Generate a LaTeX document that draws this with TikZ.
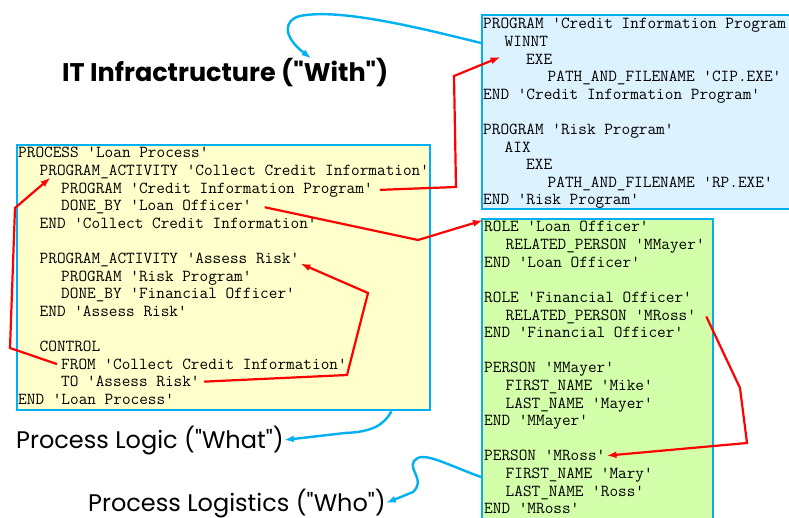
\documentclass[tikz,border=0pt]{standalone}
\usepackage{fontspec}
\usetikzlibrary{arrows.meta}
\newfontfamily\codefont{Latin Modern Mono}
\newfontfamily\handfont{Poppins}
\definecolor{linkblue}{HTML}{00B0F0}
\definecolor{linkred}{HTML}{FF0000}
\definecolor{logicbg}{HTML}{FFFFCC}
\definecolor{infrabg}{HTML}{DDF2FF}
\definecolor{peoplebg}{HTML}{D4FFAA}
\tikzset{
  codebox/.style={draw=linkblue,line width=2.4pt,anchor=north west,inner sep=0pt},
  codeline/.style={font={\codefont\fontsize{16.8pt}{17.6pt}\selectfont},anchor=base west,inner sep=1pt},
  heading/.style={font={\handfont\fontsize{24pt}{28pt}\selectfont},anchor=base west,inner sep=0pt},
  reflink/.style={draw=linkred,line width=2.2pt,-{Latex[length=10pt,width=7pt]}},
  maplink/.style={draw=linkblue,line width=2.4pt,-{Latex[length=10pt,width=7pt]}}
}
\begin{document}
\begin{tikzpicture}[x=1pt,y=-1pt]
  \useasboundingbox (0,0) rectangle (789,518);
  \clip (0,0) rectangle (789,518);
  \node (infratitle) [heading,font={\handfont\bfseries\fontsize{25.5pt}{30pt}\selectfont}] at (62,82) {IT Infractructure ("With")};
  \node (logictitle) [heading] at (16,448) {Process Logic ("What")};
  \node (logisticstitle) [heading] at (88,511) {Process Logistics ("Who")};
  % the three listings
  \node (logic) [codebox,fill=logicbg,minimum width=413pt,minimum height=265pt] at (16,144) {};
  \node (infra) [codebox,fill=infrabg,minimum width=330pt,minimum height=194pt] at (481,14) {};
  \node (people) [codebox,fill=peoplebg,minimum width=231pt,minimum height=320pt] at (481,218) {};
  \begin{scope}[nodes={codeline}]
    \node (l0) at (17,158) {PROCESS 'Loan Process'};
    \node (l1) at (38.5,175.6) {PROGRAM\_ACTIVITY 'Collect Credit Information'};
    \node (l2) at (60,193.2) {PROGRAM 'Credit Information Program'};
    \node (l3) at (60,210.8) {DONE\_BY 'Loan Officer'};
    \node (l4) at (38.5,228.4) {END 'Collect Credit Information'};
    \node (l6) at (38.5,263.6) {PROGRAM\_ACTIVITY 'Assess Risk'};
    \node (l7) at (60,281.2) {PROGRAM 'Risk Program'};
    \node (l8) at (60,298.8) {DONE\_BY 'Financial Officer'};
    \node (l9) at (38.5,316.4) {END 'Assess Risk'};
    \node (l11) at (38.5,351.6) {CONTROL};
    \node (l12) at (60,369.2) {FROM 'Collect Credit Information'};
    \node (l13) at (60,386.8) {TO 'Assess Risk'};
    \node (l14) at (17,404.4) {END 'Loan Process'};

    \node (b0) at (482,29) {PROGRAM 'Credit Information Program'};
    \node (b1) at (503.5,46.6) {WINNT};
    \node (b2) at (525,64.2) {EXE};
    \node (b3) at (546.5,81.8) {PATH\_AND\_FILENAME 'CIP.EXE'};
    \node (b4) at (482,99.4) {END 'Credit Information Program'};
    \node (b6) at (482,134.6) {PROGRAM 'Risk Program'};
    \node (b7) at (503.5,152.2) {AIX};
    \node (b8) at (525,169.8) {EXE};
    \node (b9) at (546.5,187.4) {PATH\_AND\_FILENAME 'RP.EXE'};
    \node (b10) at (482,205) {END 'Risk Program'};

    \node (p0) at (483,232) {ROLE 'Loan Officer'};
    \node (p1) at (504.5,249.6) {RELATED\_PERSON 'MMayer'};
    \node (p2) at (483,267.2) {END 'Loan Officer'};
    \node (p4) at (483,302.4) {ROLE 'Financial Officer'};
    \node (p5) at (504.5,320) {RELATED\_PERSON 'MRoss'};
    \node (p6) at (483,337.6) {END 'Financial Officer'};
    \node (p8) at (483,372.8) {PERSON 'MMayer'};
    \node (p9) at (504.5,390.4) {FIRST\_NAME 'Mike'};
    \node (p10) at (504.5,408) {LAST\_NAME 'Mayer'};
    \node (p11) at (483,425.6) {END 'MMayer'};
    \node (p13) at (483,460.8) {PERSON 'MRoss'};
    \node (p14) at (504.5,478.4) {FIRST\_NAME 'Mary'};
    \node (p15) at (504.5,496) {LAST\_NAME 'Ross'};
    \node (p16) at (483,513.6) {END 'MRoss'};
  \end{scope}
  % references between the listings
  \draw [reflink] ([xshift=6pt]l2.east) -- (456,187) -- (454,76) -- ([shift={(-3pt,-9pt)}]b1.south west);
  \draw [reflink] ([xshift=12pt]l3.east) -- (418,240) -- (p0.north west);
  \draw [reflink] ([xshift=3pt]l13.east) -- (347,375) -- (368,293) -- (l6.base east);
  \draw [reflink] ([xshift=-3pt]l12.west) -- (10,348) -- (15,208) -- ([shift={(12pt,-2pt)}]l1.base west);
  \draw [reflink] ([xshift=9pt]p5.east) -- (740,388) -- (747,443) -- (p13.east);
  % listing to heading
  \draw [maplink] ([yshift=-29pt]infra.north west) .. controls (420,28) and (340,8) .. (300,16)
    .. controls (284,20) and (282,36) .. ([xshift=86pt]infratitle.north);
  \draw [maplink] ([xshift=-40pt]logic.south east) .. controls (384,425) and (372,432) .. (345,433) -- (logictitle.east);
  \draw [maplink] ([yshift=-259pt]people.north west) .. controls (445,464) and (422,450) .. (414,461)
    .. controls (408,470) and (426,480) .. (413,492) -- (logisticstitle.east);
\end{tikzpicture}
\end{document}
